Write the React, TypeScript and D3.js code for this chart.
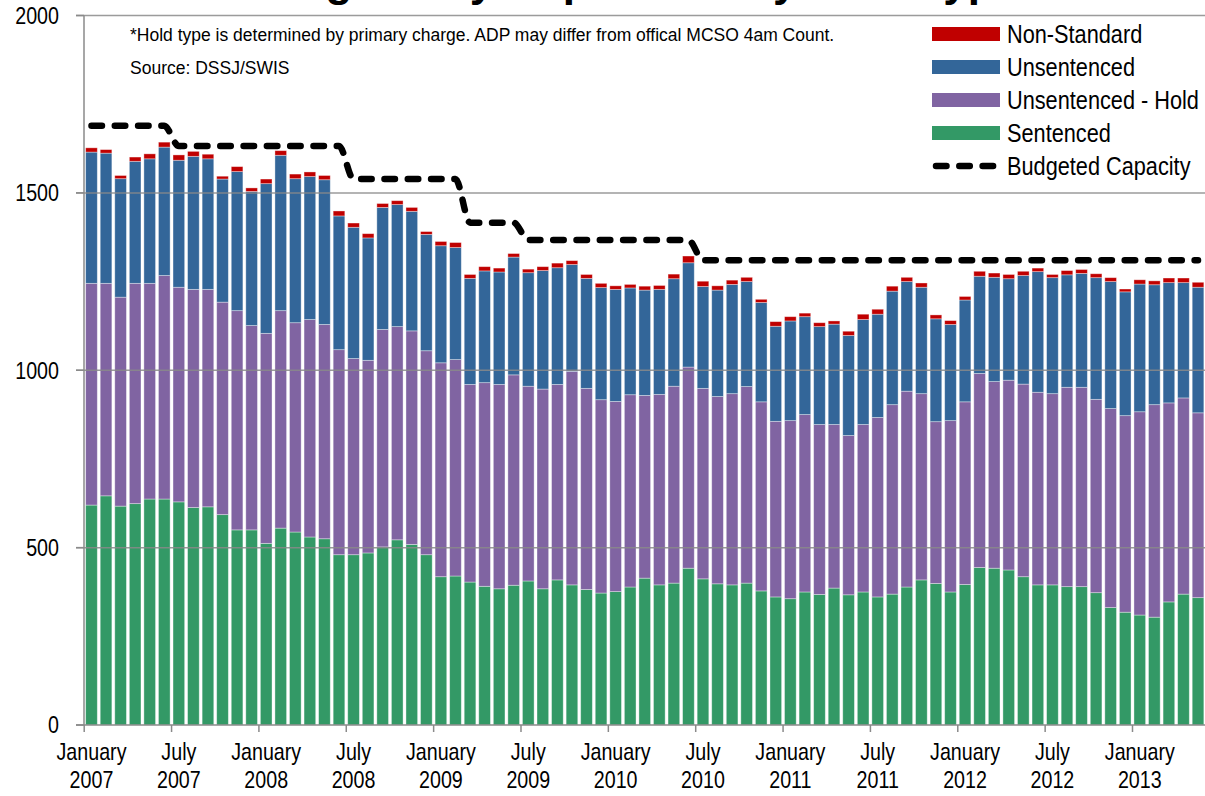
import * as React from 'react';
import {useEffect, useRef} from 'react';
import * as d3 from 'd3';

// monthly average daily population, Jan 2007 .. May 2013
const sentenced = [
  620, 646, 617, 624, 637, 637, 629, 613, 615, 593, 550, 550,
  512, 555, 544, 530, 525, 480, 480, 485, 502, 522, 509, 480,
  418, 420, 403, 391, 384, 394, 406, 384, 409, 395, 382, 372,
  376, 389, 414, 395, 400, 442, 412, 398, 395, 400, 378, 361,
  356, 375, 368, 386, 367, 375, 361, 369, 389, 409, 399, 375,
  396, 444, 442, 437, 418, 395, 395, 390, 390, 373, 331, 318,
  310, 304, 347, 369, 359
];
const unsentencedHold = [
  625, 599, 589, 621, 608, 630, 605, 615, 613, 599, 618, 576,
  592, 613, 590, 613, 604, 578, 553, 543, 613, 601, 602, 575,
  603, 610, 557, 574, 576, 593, 549, 563, 551, 602, 567, 545,
  536, 542, 515, 537, 555, 567, 537, 528, 539, 554, 533, 495,
  502, 500, 479, 461, 449, 472, 506, 534, 552, 525, 456, 483,
  515, 547, 526, 535, 543, 543, 539, 562, 562, 545, 561, 554,
  573, 599, 561, 553, 521
];
const unsentenced = [
  370, 367, 334, 344, 351, 362, 358, 375, 368, 347, 392, 378,
  422, 438, 406, 403, 408, 377, 370, 345, 344, 344, 337, 328,
  330, 316, 299, 315, 317, 332, 320, 334, 329, 301, 310, 316,
  316, 301, 297, 296, 303, 294, 287, 300, 308, 296, 280, 268,
  281, 276, 276, 283, 282, 296, 291, 320, 309, 300, 290, 271,
  287, 274, 294, 286, 306, 340, 327, 317, 321, 343, 358, 349,
  360, 338, 339, 325, 354
];
const nonStandard = [
  12, 10, 9, 12, 14, 14, 15, 14, 13, 8, 14, 10,
  13, 13, 13, 13, 12, 14, 12, 12, 11, 11, 11, 8,
  12, 14, 11, 12, 11, 10, 10, 11, 13, 11, 11, 12,
  10, 10, 11, 11, 13, 19, 15, 12, 12, 12, 9, 13,
  12, 10, 11, 9, 12, 15, 14, 14, 12, 12, 11, 11,
  10, 14, 12, 12, 12, 10, 9, 12, 11, 11, 11, 8,
  12, 11, 13, 13, 14
];
const budgetedCapacity = [
  1689, 1689, 1689, 1689, 1689, 1689, 1632, 1632, 1632, 1632, 1632, 1632,
  1632, 1632, 1632, 1632, 1632, 1632, 1539, 1539, 1539, 1539, 1539, 1539,
  1539, 1539, 1416, 1416, 1416, 1416, 1367, 1367, 1367, 1367, 1367, 1367,
  1367, 1367, 1367, 1367, 1367, 1367, 1310, 1310, 1310, 1310, 1310, 1310,
  1310, 1310, 1310, 1310, 1310, 1310, 1310, 1310, 1310, 1310, 1310, 1310,
  1310, 1310, 1310, 1310, 1310, 1310, 1310, 1310, 1310, 1310, 1310, 1310,
  1310, 1310, 1310, 1310, 1310
];

const tickLabels = [
  ['January', '2007'], ['July', '2007'], ['January', '2008'], ['July', '2008'],
  ['January', '2009'], ['July', '2009'], ['January', '2010'], ['July', '2010'],
  ['January', '2011'], ['July', '2011'], ['January', '2012'], ['July', '2012'],
  ['January', '2013']
];
const yTicks = [0, 500, 1000, 1500, 2000];

const seriesKeys = ['sentenced', 'unsentencedHold', 'unsentenced', 'nonStandard'];
const colors: Record<string, string> = {
  sentenced: '#339966',
  unsentencedHold: '#8064a2',
  unsentenced: '#336699',
  nonStandard: '#c00000'
};
const legendItems = [
  {key: 'nonStandard', label: 'Non-Standard'},
  {key: 'unsentenced', label: 'Unsentenced'},
  {key: 'unsentencedHold', label: 'Unsentenced - Hold'},
  {key: 'sentenced', label: 'Sentenced'},
  {key: 'budget', label: 'Budgeted Capacity'}
];

// no narrow face installed, so squeeze Liberation Sans horizontally
const FONT = '"Liberation Sans", Arial, sans-serif';
const SQUEEZE = 0.82;

const width = 1205;
const height = 796;

export default function App() {
  const ref = useRef<SVGSVGElement>(null);

  useEffect(() => {
    document.body.style.margin = '0';
    const svg = d3.select(ref.current);
    svg.selectAll('*').remove();

    const months = d3.timeMonth.range(new Date(2007, 0, 1), new Date(2013, 5, 1));
    const rows = months.map((m, i) => ({
      month: m,
      sentenced: sentenced[i],
      unsentencedHold: unsentencedHold[i],
      unsentenced: unsentenced[i],
      nonStandard: nonStandard[i]
    }));

    const x = d3.scaleBand<number>()
      .domain(d3.range(rows.length))
      .range([84.2, 1205.3])
      .paddingInner(0.2)
      .paddingOuter(0.1);
    const gap = (x.step() - x.bandwidth()) / 2;

    const y = d3.scaleLinear().domain([0, 2000]).range([725, 15.5]);

    const narrow = (sel: any, tx: (d: any, i: number) => number, ty: (d: any, i: number) => number) =>
      sel.attr('transform', (d: any, i: number) => `translate(${tx(d, i)},${ty(d, i)}) scale(${SQUEEZE},1)`)
        .style('font-family', FONT);

    // title, almost all of it above the top edge
    svg.append('text')
      .attr('x', 612)
      .attr('y', -4)
      .attr('text-anchor', 'middle')
      .style('font-family', FONT)
      .style('font-weight', 'bold')
      .style('font-size', '44px')
      .text('Average Daily Population by Hold Type');

    const stacked = d3.stack<any>().keys(seriesKeys)(rows);

    svg.append('g')
      .selectAll('g')
      .data(stacked)
      .join('g')
      .attr('fill', d => colors[d.key])
      .selectAll('rect')
      .data(d => d)
      .join('rect')
      .attr('x', (d, i) => x(i)!)
      .attr('width', x.bandwidth())
      .attr('y', d => y(d[1]))
      .attr('height', d => y(d[0]) - y(d[1]))
      .attr('stroke', '#ffffff')
      .attr('stroke-opacity', 0.45)
      .attr('stroke-width', 0.8);

    // gridlines
    svg.append('g')
      .selectAll('line')
      .data(yTicks.slice(1))
      .join('line')
      .attr('x1', 76)
      .attr('x2', width)
      .attr('y1', d => y(d))
      .attr('y2', d => y(d))
      .attr('stroke', '#8a8a8a')
      .attr('stroke-opacity', 0.85)
      .attr('stroke-width', 1.5);

    // axes
    const axis = svg.append('g').attr('stroke', '#8a8a8a').attr('stroke-width', 1.5);
    axis.append('line').attr('x1', 84).attr('x2', 84).attr('y1', y(2000)).attr('y2', y(0));
    axis.append('line').attr('x1', 76).attr('x2', width).attr('y1', y(0)).attr('y2', y(0));
    axis.selectAll('.ytick')
      .data(yTicks)
      .join('line')
      .attr('x1', 76).attr('x2', 84)
      .attr('y1', d => y(d)).attr('y2', d => y(d));
    axis.selectAll('.xtick')
      .data(tickLabels)
      .join('line')
      .attr('x1', (d, k) => x(k * 6)! - gap)
      .attr('x2', (d, k) => x(k * 6)! - gap)
      .attr('y1', y(0))
      .attr('y2', y(0) + 7);

    narrow(
      svg.append('g')
        .selectAll('text')
        .data(yTicks)
        .join('text')
        .attr('dy', '0.35em')
        .attr('text-anchor', 'end')
        .style('font-size', '24px')
        .text(d => d),
      () => 59,
      d => y(d)
    );

    const xl = narrow(
      svg.append('g')
        .selectAll('text')
        .data(tickLabels)
        .join('text')
        .attr('text-anchor', 'middle')
        .style('font-size', '24px'),
      (d, k) => x(k * 6)! + x.bandwidth() / 2,
      () => 0
    );
    xl.append('tspan').attr('x', 0).attr('y', 760).text((d: string[]) => d[0]);
    xl.append('tspan').attr('x', 0).attr('y', 788).text((d: string[]) => d[1]);

    // budgeted capacity line
    const line = d3.line<number>()
      .x((d, i) => x(i)! + x.bandwidth() / 2)
      .y(d => y(d))
      .curve(d3.curveMonotoneX);
    svg.append('path')
      .attr('d', line(budgetedCapacity))
      .attr('fill', 'none')
      .attr('stroke', '#000')
      .attr('stroke-width', 6.5)
      .attr('stroke-linecap', 'round')
      .attr('stroke-dasharray', '10.5 12.8');

    // notes
    svg.append('text')
      .attr('x', 130).attr('y', 41)
      .style('font-family', FONT)
      .style('font-size', '17.5px')
      .text('*Hold type is determined by primary charge. ADP may differ from offical MCSO 4am Count.');
    svg.append('text')
      .attr('x', 130).attr('y', 74)
      .style('font-family', FONT)
      .style('font-size', '17.5px')
      .text('Source: DSSJ/SWIS');

    // legend
    const lg = svg.append('g')
      .selectAll('g')
      .data(legendItems)
      .join('g')
      .attr('transform', (d, i) => `translate(932,${34 + i * 33})`);
    lg.filter(d => d.key !== 'budget')
      .append('rect')
      .attr('x', 0).attr('y', -7)
      .attr('width', 68).attr('height', 14)
      .attr('fill', d => colors[d.key]);
    lg.filter(d => d.key === 'budget')
      .append('line')
      .attr('x1', 4).attr('x2', 66)
      .attr('y1', 0).attr('y2', 0)
      .attr('stroke', '#000')
      .attr('stroke-width', 6.5)
      .attr('stroke-linecap', 'round')
      .attr('stroke-dasharray', '10.5 12.8');
    narrow(
      lg.append('text')
        .attr('dy', '0.35em')
        .style('font-size', '26.5px')
        .text(d => d.label),
      () => 75,
      () => 0
    );
  }, []);

  return (
    <svg
      ref={ref}
      width={width}
      height={height}
      style={{position: 'absolute', left: 0, top: 0, background: '#fff', display: 'block'}}
    />
  );
}
